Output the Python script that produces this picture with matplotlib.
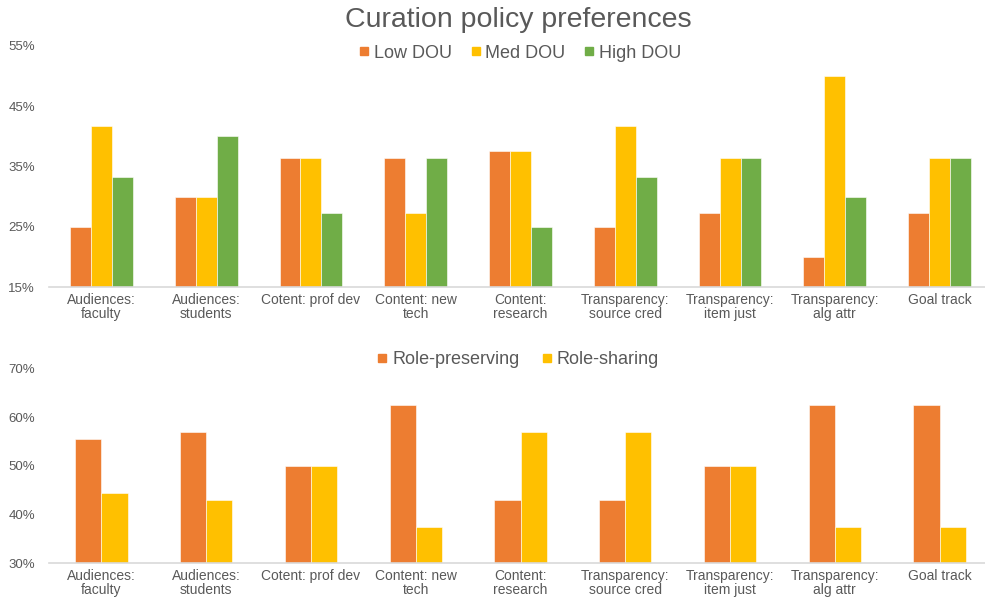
import matplotlib
matplotlib.use("Agg")
import matplotlib.pyplot as plt
from matplotlib.lines import Line2D
import numpy as np

plt.rcParams['font.family'] = ['Liberation Sans', 'DejaVu Sans']

categories = ["Audiences:\nfaculty", "Audiences:\nstudents", "Cotent: prof dev",
              "Content: new\ntech", "Content:\nresearch", "Transparency:\nsource cred",
              "Transparency:\nitem just", "Transparency:\nalg attr", "Goal track"]

# DOU groups (%)
low_dou = [25.0, 30.0, 36.4, 36.4, 37.5, 25.0, 27.3, 20.0, 27.3]
med_dou = [41.7, 30.0, 36.4, 27.3, 37.5, 41.7, 36.4, 50.0, 36.4]
high_dou = [33.3, 40.0, 27.3, 36.4, 25.0, 33.3, 36.4, 30.0, 36.4]

# Role groups (%)
role_preserving = [55.6, 57.1, 50.0, 62.5, 42.9, 42.9, 50.0, 62.5, 62.5]
role_sharing = [44.4, 42.9, 50.0, 37.5, 57.1, 57.1, 50.0, 37.5, 37.5]

top_ticks = [15, 25, 35, 45, 55]
bottom_ticks = [30, 40, 50, 60, 70]

ORANGE = "#ED7D31"
YELLOW = "#FFC000"
GREEN = "#70AD47"
TEXT = "#595959"
AXIS = "#D9D9D9"

W, H = 985, 599
fig = plt.figure(figsize=(W / 100, H / 100), dpi=100)

left = 49 / W
width = 943 / W
ax1 = fig.add_axes([left, 1 - 287 / H, width, (287 - 46) / H])
ax2 = fig.add_axes([left, 1 - 563 / H, width, (563 - 369) / H])

x = np.arange(len(categories))


def style(ax, ticks):
    ax.set_xlim(-0.5, len(categories) - 0.5)
    ax.set_ylim(ticks[0], ticks[-1])
    ax.set_yticks(ticks)
    ax.set_yticklabels([f"{t}%" for t in ticks])
    ax.set_xticks(x)
    ax.set_xticklabels(categories, linespacing=1.0)
    for s in ("top", "right", "left"):
        ax.spines[s].set_visible(False)
    ax.spines["bottom"].set_color(AXIS)
    ax.spines["bottom"].set_linewidth(1.2)
    ax.tick_params(axis="both", length=0, colors=TEXT)
    ax.tick_params(axis="y", labelsize=9.5, pad=10)
    ax.tick_params(axis="x", labelsize=10, pad=4)


bw = 0.2
series1 = [(low_dou, ORANGE), (med_dou, YELLOW), (high_dou, GREEN)]
for i, (vals, col) in enumerate(series1):
    ax1.bar(x + (i - 1) * bw, np.array(vals) - 15, bottom=15, width=bw,
            color=col, edgecolor="white", linewidth=0.4)
style(ax1, top_ticks)

bw2 = 0.25
series2 = [(role_preserving, ORANGE), (role_sharing, YELLOW)]
for i, (vals, col) in enumerate(series2):
    ax2.bar(x + (i - 0.5) * bw2, np.array(vals) - 30, bottom=30, width=bw2,
            color=col, edgecolor="white", linewidth=0.4)
style(ax2, bottom_ticks)

fig.text(518 / W, 1 - 20 / H, "Curation policy preferences", ha="center",
         va="center", fontsize=20.5, color=TEXT)


def handles(labels, colors):
    return [Line2D([], [], marker="s", linestyle="none", markersize=6,
                   markerfacecolor=c, markeredgecolor=c, label=l)
            for l, c in zip(labels, colors)]


leg_kw = dict(ncol=3, frameon=False, fontsize=13, handlelength=0.6,
              handletextpad=0.25, columnspacing=1.0, labelcolor=TEXT,
              borderaxespad=0, borderpad=0)
fig.legend(handles=handles(["Low DOU", "Med DOU", "High DOU"], [ORANGE, YELLOW, GREEN]),
           loc="center", bbox_to_anchor=(520 / W, 1 - 53 / H), **leg_kw)
leg_kw["ncol"] = 2
leg_kw["columnspacing"] = 1.2
fig.legend(handles=handles(["Role-preserving", "Role-sharing"], [ORANGE, YELLOW]),
           loc="center", bbox_to_anchor=(518 / W, 1 - 360 / H), **leg_kw)

fig.savefig("out.png", dpi=100)
